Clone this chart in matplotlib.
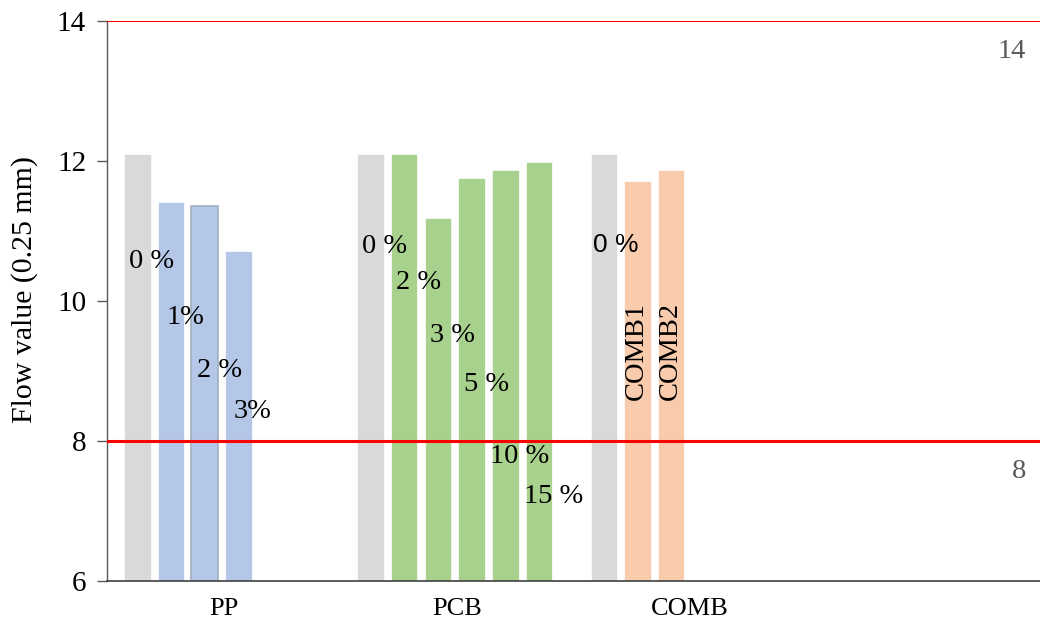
import matplotlib
matplotlib.use("Agg")
import matplotlib.pyplot as plt
import numpy as np

# data
categories = ["PP", "PCB", "COMB", ""]
pp_vals = [12.10, 11.41, 11.35, 10.71]
pcb_vals = [12.10, 12.10, 11.18, 11.75, 11.87, 11.98]
comb_vals = [12.10, 11.72, 11.87]
pp_labels = ["0 %", "1%", "2 %", "3%"]
pcb_labels = ["0 %", "2 %", "3 %", "5 %", "10 %", "15 %"]
comb_labels = ["0 %", "COMB1", "COMB2"]
limits = [14, 8]

# where the data labels sit (y, data units)
pp_label_y = [10.56, 9.76, 9.01, 8.42]
pcb_label_y = [10.78, 10.26, 9.51, 8.80, 7.78, 7.20]
comb_label_y = [10.80, 9.29, 9.29]

gray = "#D9D9D9"
group_colors = ["#B4C7E7", "#A9D18E", "#F8CBAD"]
serif = "Liberation Serif"

fig = plt.figure(figsize=(10.4, 6.27), dpi=100)
ax = fig.add_axes([0.1029, 0.0734, 0.8971, 0.8931])

slot = 0.1445
width = 0.1136

groups = [(pp_vals, pp_labels, pp_label_y),
          (pcb_vals, pcb_labels, pcb_label_y),
          (comb_vals, comb_labels, comb_label_y)]

for i, (vals, labs, laby) in enumerate(groups):
    x = i - 0.009 + (np.arange(len(vals)) - 2.5) * slot
    colors = [gray] + [group_colors[i]] * (len(vals) - 1)
    bars = ax.bar(x, vals, width=width, bottom=0, color=colors,
                  edgecolor="white", linewidth=0.5, zorder=2)
    if i == 0:
        bars[2].set_edgecolor("#A3AEBF")
        bars[2].set_linewidth(1.2)
    for j, (xx, lab, ly) in enumerate(zip(x, labs, laby)):
        if lab.startswith("COMB"):
            ax.text(xx - 0.003, ly, lab, rotation=90, ha="center", va="center",
                    fontsize=20.5, family=serif, zorder=4)
        elif i == 2:
            ax.text(xx + 0.05, ly, lab, ha="center", va="center",
                    fontsize=19, family="Liberation Sans", zorder=4)
        else:
            ax.text(xx + 0.062, ly, lab, ha="center", va="center",
                    fontsize=20.5, family=serif, zorder=4)

# limit lines
ax.axhline(limits[0], color="#FF0000", lw=1.5, zorder=3)
ax.axhline(limits[1], color="#FF0000", lw=2.2, zorder=3)
for v in limits:
    ax.text(3.44, v - 0.43, str(v), ha="right", va="center",
            fontsize=20.5, family=serif, color="#595959")

ax.set_xlim(-0.5, 3.5)
ax.set_ylim(6, 14)
ax.set_yticks([6, 8, 10, 12, 14])
ax.set_xticks(range(len(categories)))
ax.set_xticklabels(categories, family=serif, fontsize=19)
for t in ax.get_yticklabels():
    t.set_family(serif)
    t.set_fontsize(21)
ax.tick_params(axis="y", direction="out", length=7, width=1, color="#595959", pad=8)
ax.tick_params(axis="x", length=0, pad=12)

ax.set_ylabel("Flow value (0.25 mm)", family=serif, fontsize=21.5)
ax.yaxis.set_label_coords(-0.074, 0.521)

for s in ["top", "right"]:
    ax.spines[s].set_visible(False)
ax.spines["left"].set_color("#595959")
ax.spines["bottom"].set_color("#404040")
ax.spines["left"].set_linewidth(1)
ax.spines["bottom"].set_linewidth(1.2)

fig.savefig("out.png", dpi=100)
